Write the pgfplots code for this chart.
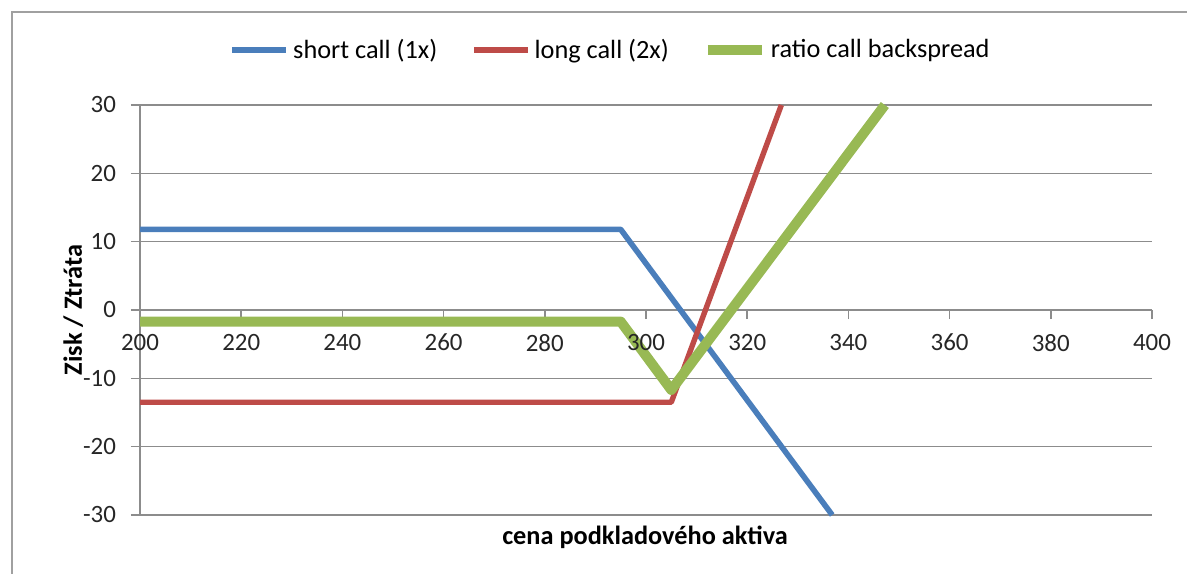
\documentclass[border=0pt]{standalone}
\usepackage{fontspec}
\setmainfont{Carlito}
\usepackage{pgfplots}
\pgfplotsset{compat=1.18}
\definecolor{cShort}{HTML}{4A7EBB}
\definecolor{cLong}{HTML}{BE4B48}
\definecolor{cRatio}{HTML}{98B954}
\definecolor{cGrid}{HTML}{8C8C8C}
\definecolor{cFrame}{HTML}{A0A0A0}

\pgfplotsset{
    common/.style={
        scale only axis,
        width=506bp,
        height=205bp,
        xmin=200, xmax=400,
        ymin=-30, ymax=30,
        xtick={200,220,...,400},
        ytick={-30,-20,...,30},
        axis x line*=middle,
        axis y line*=left,
        hide obscured x ticks=false,
        tick align=outside,
        major tick length=4.5bp,
        /pgf/number format/assume math mode=true,
        /pgf/number format/1000 sep={},
        ticklabel style={font=\fontsize{12.5}{14}\selectfont, text=black!85},
        xticklabel style={yshift=-4bp},
        yticklabel style={xshift=-4bp},
    },
}

\begin{document}
\begin{tikzpicture}
% 1 px of the reference = 0.5bp; axis box lower-left at the origin
\begin{axis}[
    common,
    xticklabels={},
    axis line style={cGrid, line width=0.8bp, -},
    ymajorgrids,
    grid style={cGrid, line width=0.8bp},
    tick style={cGrid, line width=0.8bp},
    xlabel={\textbf{cena podkladového aktiva}},
    ylabel={\textbf{Zisk / Ztráta}},
    label style={font=\fontsize{13.2}{15}\selectfont},
    xlabel style={at={(axis description cs:0.499,-0.054)}, anchor=center},
    ylabel style={at={(axis description cs:-0.066,0.5)}, anchor=center},
    clip=false,
    legend columns=3,
    legend style={draw=none, fill=none, font=\fontsize{13.2}{15}\selectfont,
        at={(axis description cs:0.466,1.134)}, anchor=center,
        /tikz/every even column/.append style={column sep=15bp}},
    legend image code/.code={\draw[#1] (0bp,0bp) -- (27bp,0bp);},
]
\addplot[cShort, line width=2.8bp, line join=round] coordinates {
    (200,11.8) (295,11.8) (336.8,-30)};
\addlegendentry{short call (1x)}
\addplot[cLong, line width=2.7bp, line join=round] coordinates {
    (200,-13.5) (305,-13.5) (326.75,30)};
\addlegendentry{long call (2x)}
\addplot[cRatio, line width=5bp, line join=round] coordinates {
    (200,-1.7) (295,-1.7) (305,-11.7) (347.2,30)};
\addlegendentry{ratio call backspread}
\end{axis}
% x tick labels again, on top of the lines
\begin{axis}[
    common,
    yticklabels={},
    axis line style={draw=none},
    tick style={draw=none},
]
\end{axis}
\draw[cFrame, line width=1bp] (-64bp,-40bp) -- (-64bp,251.5bp) -- (540bp,251.5bp);
\pgfresetboundingbox
\path[use as bounding box] (-70bp,-29.5bp) rectangle (523.5bp,257.5bp);
\end{tikzpicture}
\end{document}
